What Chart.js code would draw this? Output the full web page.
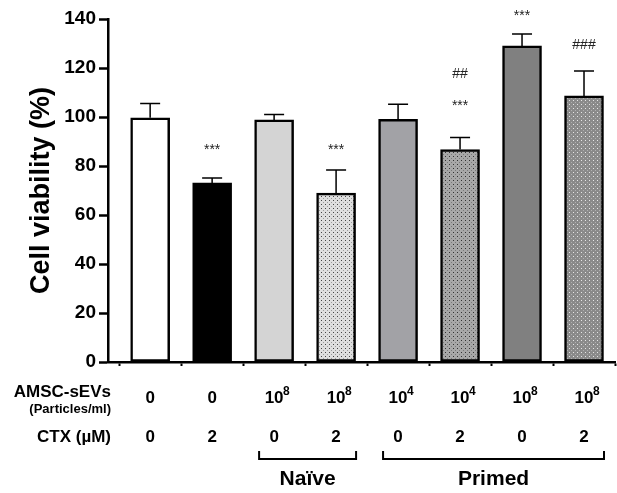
<!DOCTYPE html>
<html lang="en">
<head>
  <meta charset="UTF-8">
  <title>Cell viability</title>
  <style>
    body {
      margin: 0;
      background: #fff;
      font-family: "Liberation Sans", Arial, sans-serif;
    }
    #wrap {
      width: 617px;
      height: 493px;
      position: relative;
    }
  </style>
  <script src="https://cdn.jsdelivr.net/npm/chart.js"></script>
</head>
<body>
  <div id="wrap"><canvas id="viabilityChart"></canvas></div>

  <script>
    // values
    var viability = [99.7, 73.1, 98.8, 68.9, 99.1, 86.7, 129, 108.6];
    var sdev = [5.8, 2.0, 2.2, 9.5, 6.1, 4.9, 4.9, 10.2];

    // x label rows
    var sevBase = ['0', '0', '10', '10', '10', '10', '10', '10'];
    var sevExp = ['', '', '8', '8', '4', '4', '8', '8'];
    var ctxDose = ['0', '2', '0', '2', '0', '2', '0', '2'];

    // groups under the axis (bar numbers, 1-based)
    var groupNames = ['Naïve', 'Primed'];
    var groupFirst = [3, 5];
    var groupLast = [4, 8];

    // significance marks and the height (in %) where they sit
    var starMarks = ['', '***', '', '***', '', '***', '***', ''];
    var starAt = [0, 88, 0, 88, 0, 106, 143, 0];
    var hashMarks = ['', '', '', '', '', '##', '', '###'];
    var hashAt = [0, 0, 0, 0, 0, 118, 0, 130];

    var yTicks = [0, 20, 40, 60, 80, 100, 120, 140];

    var FONT = '"Liberation Sans", Arial, sans-serif';

    function dotPattern(base, dot1, dot2) {
      var c = document.createElement('canvas');
      c.width = 4;
      c.height = 4;
      var g = c.getContext('2d');
      g.fillStyle = base;
      g.fillRect(0, 0, 4, 4);
      g.fillStyle = dot1;
      g.fillRect(1, 0, 1, 1);
      g.fillStyle = dot2;
      g.fillRect(3, 2, 1, 1);
      return g.createPattern(c, 'repeat');
    }

    var fills = [
      '#ffffff',
      '#000000',
      '#d4d4d4',
      dotPattern('#dedede', '#444444', '#9a9a9a'),
      '#a2a2a6',
      dotPattern('#a8a8a8', '#333333', '#7a7a7a'),
      '#808080',
      dotPattern('#8a8a8a', '#e6e6e6', '#b0b0b0')
    ];

    var extras = {
      id: 'extras',
      afterDatasetsDraw: function (chart) {
        var c = chart.ctx, x = chart.scales.x, y = chart.scales.y;
        c.save();
        // error bars (upper half only)
        c.strokeStyle = '#000';
        c.lineWidth = 1.5;
        viability.forEach(function (v, i) {
          var px = x.getPixelForValue(i + 1);
          var base = y.getPixelForValue(v);
          var top = y.getPixelForValue(v + sdev[i]);
          c.beginPath();
          c.moveTo(px, base);
          c.lineTo(px, top);
          c.moveTo(px - 10, top);
          c.lineTo(px + 10, top);
          c.stroke();
        });
        // stars and hashes
        c.textAlign = 'center';
        c.textBaseline = 'alphabetic';
        c.fillStyle = '#222';
        starMarks.forEach(function (s, i) {
          if (!s) return;
          c.font = '14px ' + FONT;
          c.fillText(s, x.getPixelForValue(i + 1), y.getPixelForValue(starAt[i]) + 8);
        });
        hashMarks.forEach(function (s, i) {
          if (!s) return;
          c.font = '14px ' + FONT;
          c.fillText(s, x.getPixelForValue(i + 1), y.getPixelForValue(hashAt[i]) + 5);
        });
        c.restore();
      },
      afterDraw: function (chart) {
        var c = chart.ctx, x = chart.scales.x;
        c.save();
        c.fillStyle = '#000';
        c.textBaseline = 'middle';

        // row captions
        c.textAlign = 'right';
        c.font = 'bold 17px ' + FONT;
        c.fillText('AMSC-sEVs', 111, 392);
        c.font = 'bold 13px ' + FONT;
        c.fillText('(Particles/ml)', 111, 409);
        c.font = 'bold 17px ' + FONT;
        c.fillText('CTX (\u00b5M)', 111, 437);

        // row values
        sevBase.forEach(function (t, i) {
          var px = x.getPixelForValue(i + 1);
          c.textAlign = 'center';
          c.font = 'bold 17px ' + FONT;
          c.fillText(t, px, 398);
          if (sevExp[i]) {
            var w = c.measureText(t).width;
            c.textAlign = 'left';
            c.font = 'bold 12px ' + FONT;
            c.fillText(sevExp[i], px + w / 2 - 0.5, 392);
          }
          c.textAlign = 'center';
          c.font = 'bold 17px ' + FONT;
          c.fillText(ctxDose[i], px, 437);
        });

        // group brackets
        c.strokeStyle = '#000';
        c.lineWidth = 2;
        c.font = 'bold 21px ' + FONT;
        c.textAlign = 'center';
        groupNames.forEach(function (name, k) {
          var x0 = x.getPixelForValue(groupFirst[k]) - 15;
          var x1 = x.getPixelForValue(groupLast[k]) + 20;
          c.beginPath();
          c.moveTo(x0, 451);
          c.lineTo(x0, 459);
          c.lineTo(x1, 459);
          c.lineTo(x1, 451);
          c.stroke();
          c.fillText(name, (x0 + x1) / 2, 479);
        });
        c.restore();
      }
    };

    var ctxChart = document.getElementById('viabilityChart').getContext('2d');
    var viabilityChart = new Chart(ctxChart, {
      type: 'bar',
      data: {
        datasets: [{
          data: viability.map(function (v, i) { return { x: i + 1, y: v }; }),
          backgroundColor: fills,
          borderColor: '#000',
          borderWidth: 2.5,
          borderSkipped: false,
          barThickness: 39
        }]
      },
      options: {
        responsive: true,
        maintainAspectRatio: false,
        animation: false,
        layout: { padding: { top: 19, right: 2, left: 0, bottom: 0 } },
        plugins: {
          legend: { display: false },
          tooltip: { enabled: false }
        },
        scales: {
          x: {
            type: 'linear',
            offset: false,
            min: 0.32,
            max: 8.5,
            afterBuildTicks: function (s) {
              s.ticks = viability.map(function (v, i) { return { value: i + 1 }; });
            },
            afterFit: function (s) { s.height = 131; },
            ticks: { display: false },
            grid: { drawOnChartArea: false, drawTicks: true, tickLength: 4, tickWidth: 2, tickColor: '#000' },
            border: { display: true, color: '#000', width: 2.5 }
          },
          y: {
            min: 0,
            max: 140,
            afterBuildTicks: function (s) {
              s.ticks = yTicks.map(function (v) { return { value: v }; });
            },
            afterFit: function (s) { s.width = 108; },
            ticks: { color: '#000', padding: 3, font: { family: FONT, size: 19, weight: 'bold' } },
            grid: { drawOnChartArea: false, drawTicks: true, tickLength: 9, tickWidth: 2.5, tickColor: '#000' },
            border: { display: true, color: '#000', width: 2.5 },
            title: {
              display: true,
              text: 'Cell viability (%)',
              color: '#000',
              font: { family: FONT, size: 27, weight: 'bold' },
              padding: { top: 25, bottom: 0 }
            }
          }
        }
      },
      plugins: [extras]
    });
  </script>
</body>
</html>
